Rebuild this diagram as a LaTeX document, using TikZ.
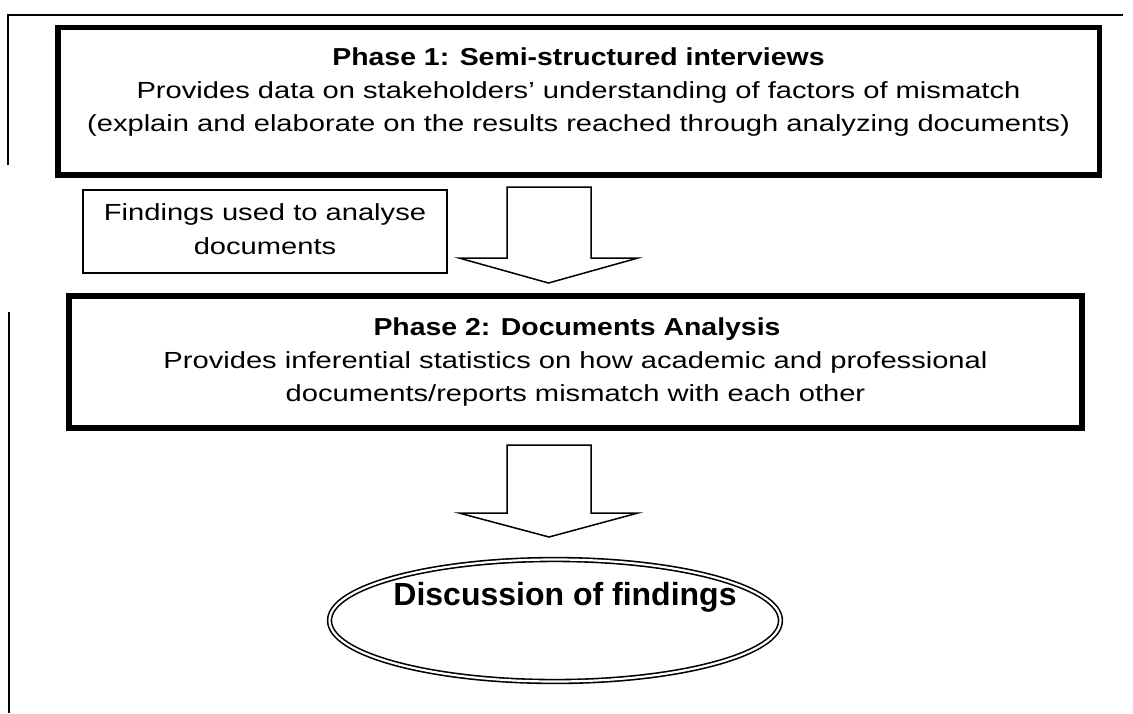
\documentclass[tikz,border=0pt]{standalone}
\usepackage{fontspec}
\setmainfont{Liberation Sans}
\newfontfamily\widefont{Liberation Sans}[FakeStretch=1.25]
\newfontfamily\titlefont{Liberation Sans}[FakeStretch=1.16]
\usetikzlibrary{shapes.geometric}
\begin{document}
\begin{tikzpicture}[x=1pt,y=-1pt,
  phasebox/.style={draw, line width=#1, inner sep=0pt, fill=none},
  body/.style={align=center, inner sep=0pt, anchor=base, font=\widefont\fontsize{23.3}{33}\selectfont},
  ttl/.style={inner sep=0pt, anchor=base, font=\titlefont\fontsize{24.5}{33}\selectfont\bfseries},
  blockarrow/.style={draw, line width=1.5pt, line join=miter, fill=white},
  frameline/.style={line width=1.8pt}]
\useasboundingbox (0,0) rectangle (1133,713);
% frame lines
\coordinate (ftl) at (8,15);
\coordinate (ftr) at (1123,15);
\coordinate (fbl) at (8,165);
\coordinate (f2t) at (9,312);
\coordinate (f2b) at (9,713);
\draw[frameline] (fbl) -- (ftl) -- (ftr);
\draw[frameline] (f2t) -- (f2b);
% phase 1
\node[phasebox=5.5pt, minimum width=1041.5pt, minimum height=147.5pt] (p1) at (578.75,101.25) {};
\node[ttl] (p1h) at (578.5,65) {Phase 1: Semi-structured interviews};
\node[body] (p1t) at (578.5,131) {Provides data on stakeholders’ understanding of factors of mismatch\\
(explain and elaborate on the results reached through analyzing documents)};
% findings
\node[draw, line width=1.1pt, minimum width=364pt, minimum height=83pt, inner sep=0pt] (fb) at (265,231.5) {};
\node[body, font=\widefont\fontsize{23.3}{34}\selectfont] (fbt) at (265,254) {Findings used to analyse\\documents};
% arrow 1
\coordinate (a1a) at (507,187);
\coordinate (a1b) at (591,187);
\coordinate (a1c) at (591,258);
\coordinate (a1d) at (638,258);
\coordinate (a1tip) at (548.5,283);
\coordinate (a1e) at (459,258);
\coordinate (a1f) at (507,258);
\draw[blockarrow] (a1a) -- (a1b) -- (a1c) -- (a1d) -- (a1tip) -- (a1e) -- (a1f) -- cycle;
% phase 2
\node[phasebox=6pt, minimum width=1013pt, minimum height=132.5pt] (p2) at (575.5,361.75) {};
\node[ttl] (p2h) at (577,335) {Phase 2: Documents Analysis};
\node[body] (p2t) at (575.5,401) {Provides inferential statistics on how academic and professional\\
documents/reports mismatch with each other};
% arrow 2
\coordinate (a2a) at (507,445);
\coordinate (a2b) at (591,445);
\coordinate (a2c) at (591,513);
\coordinate (a2d) at (638,513);
\coordinate (a2tip) at (549,537);
\coordinate (a2e) at (459,513);
\coordinate (a2f) at (507,513);
\draw[blockarrow] (a2a) -- (a2b) -- (a2c) -- (a2d) -- (a2tip) -- (a2e) -- (a2f) -- cycle;
% discussion
\node[ellipse, draw, double, double distance=2.2pt, line width=1.6pt, minimum width=451pt, minimum height=122pt, inner sep=0pt] (disc) at (555,620.5) {};
\node[inner sep=0pt, anchor=base, font=\fontsize{32}{36}\selectfont\bfseries] (disct) at (565,605) {Discussion of findings};
\end{tikzpicture}
\end{document}
